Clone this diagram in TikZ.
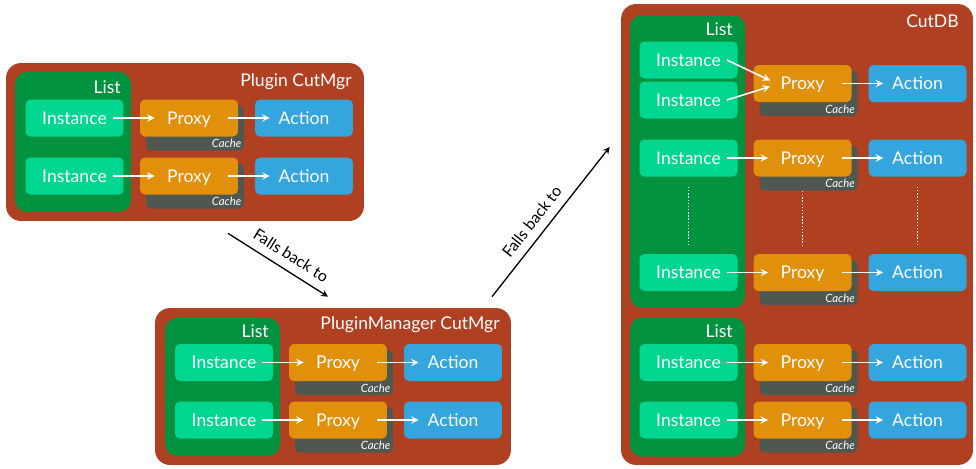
\documentclass[tikz,border=0pt]{standalone}
\usepackage{fontspec}
\setmainfont{Lato}
\usepackage{tikz}
\usetikzlibrary{calc}

\definecolor{mgrred}{RGB}{176,64,34}
\definecolor{listgreen}{RGB}{0,146,63}
\definecolor{instgreen}{RGB}{0,214,143}
\definecolor{proxyorange}{RGB}{224,144,10}
\definecolor{cachegrey}{RGB}{79,88,80}
\definecolor{actionblue}{RGB}{52,166,221}

\tikzset{
    mgrbox/.style={fill=mgrred, rounded corners=0.3cm, inner sep=0pt},
    listbox/.style={fill=listgreen, rounded corners=0.24cm, inner sep=0pt},
    cell/.style={rounded corners=0.1cm, minimum width=1.96cm, minimum height=0.74cm, inner sep=0pt, text height=7.2pt, text depth=0pt, text=white, font=\fontsize{10}{12}\selectfont},
    inst/.style={cell, fill=instgreen},
    proxy/.style={cell, fill=proxyorange},
    action/.style={cell, fill=actionblue},
    cachelabel/.style={anchor=south east, inner sep=1.5pt, text=white, font=\fontsize{6.5}{7}\selectfont\itshape},
    cache/.style={rounded corners=0.1cm, fill=cachegrey, minimum width=1.96cm, minimum height=0.9cm, inner sep=0pt, label={[cachelabel]south east:Cache}},
    title/.style={anchor=base east, inner sep=0pt, text=white, font=\fontsize{10}{12}\selectfont},
    flow/.style={->, white, line width=0.9pt},
    fall/.style={->, black, line width=0.75pt},
    ellip/.style={white, line width=0.8pt, densely dotted},
}

\begin{document}
\begin{tikzpicture}[>=stealth, x=0.02cm, y=-0.02cm]
        \useasboundingbox (0, 0) rectangle (976, 468);
        % Plugin CutMgr
        \node[mgrbox, minimum width=7.16cm, minimum height=3.16cm] (plug) at (185, 142) {};
        \node[listbox, minimum width=2.32cm, minimum height=2.8cm] (plugL) at (73, 142) {};
        \node[title] (plugT) at (352, 86) {Plugin CutMgr};
        \node[title] (plugLT) at (121, 93) {List};
        \node[inst] (pi1) at (74.5, 118) {Instance};
        \node[cache] (pc1) at (195, 128) {};
        \node[proxy] (pp1) at (189, 118) {Proxy};
        \node[action] (pa1) at (304, 118) {Action};
        \node[inst] (pi2) at (74.5, 176) {Instance};
        \node[cache] (pc2) at (195, 186) {};
        \node[proxy] (pp2) at (189, 176) {Proxy};
        \node[action] (pa2) at (304, 176) {Action};
        \draw[flow] ([xshift=-0.22cm]pi1.east) -- ([xshift=0.3cm]pp1.west);
        \draw[flow] ([xshift=-0.2cm]pp1.east) -- ([xshift=0.3cm]pa1.west);
        \draw[flow] ([xshift=-0.22cm]pi2.east) -- ([xshift=0.3cm]pp2.west);
        \draw[flow] ([xshift=-0.2cm]pp2.east) -- ([xshift=0.3cm]pa2.west);

        % PluginManager CutMgr
        \node[mgrbox, minimum width=7.12cm, minimum height=3.14cm] (mgr) at (333, 386.5) {};
        \node[listbox, minimum width=2.3cm, minimum height=2.76cm] (mgrL) at (222.5, 387) {};
        \node[title] (mgrT) at (500, 329) {PluginManager CutMgr};
        \node[title] (mgrLT) at (269, 337) {List};
        \node[inst] (mi1) at (224, 362.5) {Instance};
        \node[cache] (mc1) at (344, 372.5) {};
        \node[proxy] (mp1) at (338, 362.5) {Proxy};
        \node[action] (ma1) at (453, 362.5) {Action};
        \node[inst] (mi2) at (224, 420) {Instance};
        \node[cache] (mc2) at (344, 430) {};
        \node[proxy] (mp2) at (338, 420) {Proxy};
        \node[action] (ma2) at (453, 420) {Action};
        \draw[flow] ([xshift=-0.22cm]mi1.east) -- ([xshift=0.3cm]mp1.west);
        \draw[flow] ([xshift=-0.2cm]mp1.east) -- ([xshift=0.3cm]ma1.west);
        \draw[flow] ([xshift=-0.22cm]mi2.east) -- ([xshift=0.3cm]mp2.west);
        \draw[flow] ([xshift=-0.2cm]mp2.east) -- ([xshift=0.3cm]ma2.west);

        % CutDB
        \node[mgrbox, minimum width=7.04cm, minimum height=9.22cm] (db) at (797, 234.5) {};
        \node[listbox, minimum width=2.3cm, minimum height=5.86cm] (dbL1) at (687.5, 161.5) {};
        \node[listbox, minimum width=2.3cm, minimum height=2.78cm] (dbL2) at (687.5, 387) {};
        \node[title] (dbT) at (959, 27) {CutDB};
        \node[title] (dbLT1) at (733, 35) {List};
        \node[title] (dbLT2) at (733, 337) {List};
        \node[inst] (di1) at (688.5, 60) {Instance};
        \node[inst] (di2) at (688.5, 100) {Instance};
        \node[cache] (dc1) at (808.5, 93.5) {};
        \node[proxy] (dp1) at (802.5, 83.5) {Proxy};
        \node[action] (da1) at (917.5, 83.5) {Action};
        \node[inst] (di3) at (688.5, 158) {Instance};
        \node[cache] (dc3) at (808.5, 168) {};
        \node[proxy] (dp3) at (802.5, 158) {Proxy};
        \node[action] (da3) at (917.5, 158) {Action};
        \node[inst] (di4) at (688.5, 272.5) {Instance};
        \node[cache] (dc4) at (808.5, 282.5) {};
        \node[proxy] (dp4) at (802.5, 272.5) {Proxy};
        \node[action] (da4) at (917.5, 272.5) {Action};
        \node[inst] (di5) at (688.5, 362.5) {Instance};
        \node[cache] (dc5) at (808.5, 372.5) {};
        \node[proxy] (dp5) at (802.5, 362.5) {Proxy};
        \node[action] (da5) at (917.5, 362.5) {Action};
        \node[inst] (di6) at (688.5, 420) {Instance};
        \node[cache] (dc6) at (808.5, 430) {};
        \node[proxy] (dp6) at (802.5, 420) {Proxy};
        \node[action] (da6) at (917.5, 420) {Action};
        \draw[flow] ([xshift=-0.22cm]di1.east) -- ([shift={(17, -3)}]dp1.west);
        \draw[flow] ([xshift=-0.22cm]di2.east) -- ([shift={(17, 3)}]dp1.west);
        \draw[flow] ([xshift=-0.2cm]dp1.east) -- ([xshift=0.3cm]da1.west);
        \draw[flow] ([xshift=-0.22cm]di3.east) -- ([xshift=0.3cm]dp3.west);
        \draw[flow] ([xshift=-0.2cm]dp3.east) -- ([xshift=0.3cm]da3.west);
        \draw[flow] ([xshift=-0.22cm]di4.east) -- ([xshift=0.3cm]dp4.west);
        \draw[flow] ([xshift=-0.2cm]dp4.east) -- ([xshift=0.3cm]da4.west);
        \draw[flow] ([xshift=-0.22cm]di5.east) -- ([xshift=0.3cm]dp5.west);
        \draw[flow] ([xshift=-0.2cm]dp5.east) -- ([xshift=0.3cm]da5.west);
        \draw[flow] ([xshift=-0.22cm]di6.east) -- ([xshift=0.3cm]dp6.west);
        \draw[flow] ([xshift=-0.2cm]dp6.east) -- ([xshift=0.3cm]da6.west);
        \draw[ellip] ([yshift=-0.2cm]di3.south) -- ([yshift=0.16cm]di4.north);
        \draw[ellip] ([yshift=-0.28cm]dp3.south) -- ([yshift=0.16cm]dp4.north);
        \draw[ellip] ([yshift=-0.2cm]da3.south) -- ([yshift=0.16cm]da4.north);

        % fall back chain
        \coordinate (fb1a) at ([shift={(43, 12)}]plug.south);
        \coordinate (fb1b) at ([shift={(-5, -11)}]mgr.north);
        \coordinate (fb2a) at ([shift={(159, -11)}]mgr.north);
        \coordinate (fb2b) at ([shift={(-11, -87.5)}]db.west);
        \draw[fall] (fb1a) -- (fb1b) node[above=1.5pt, sloped, pos=0.55, font=\fontsize{9}{10}\selectfont] {Falls back to};
        \draw[fall] (fb2a) -- (fb2b) node[above=1.5pt, sloped, pos=0.44, font=\fontsize{9}{10}\selectfont] {Falls back to};
    \end{tikzpicture}
\end{document}
